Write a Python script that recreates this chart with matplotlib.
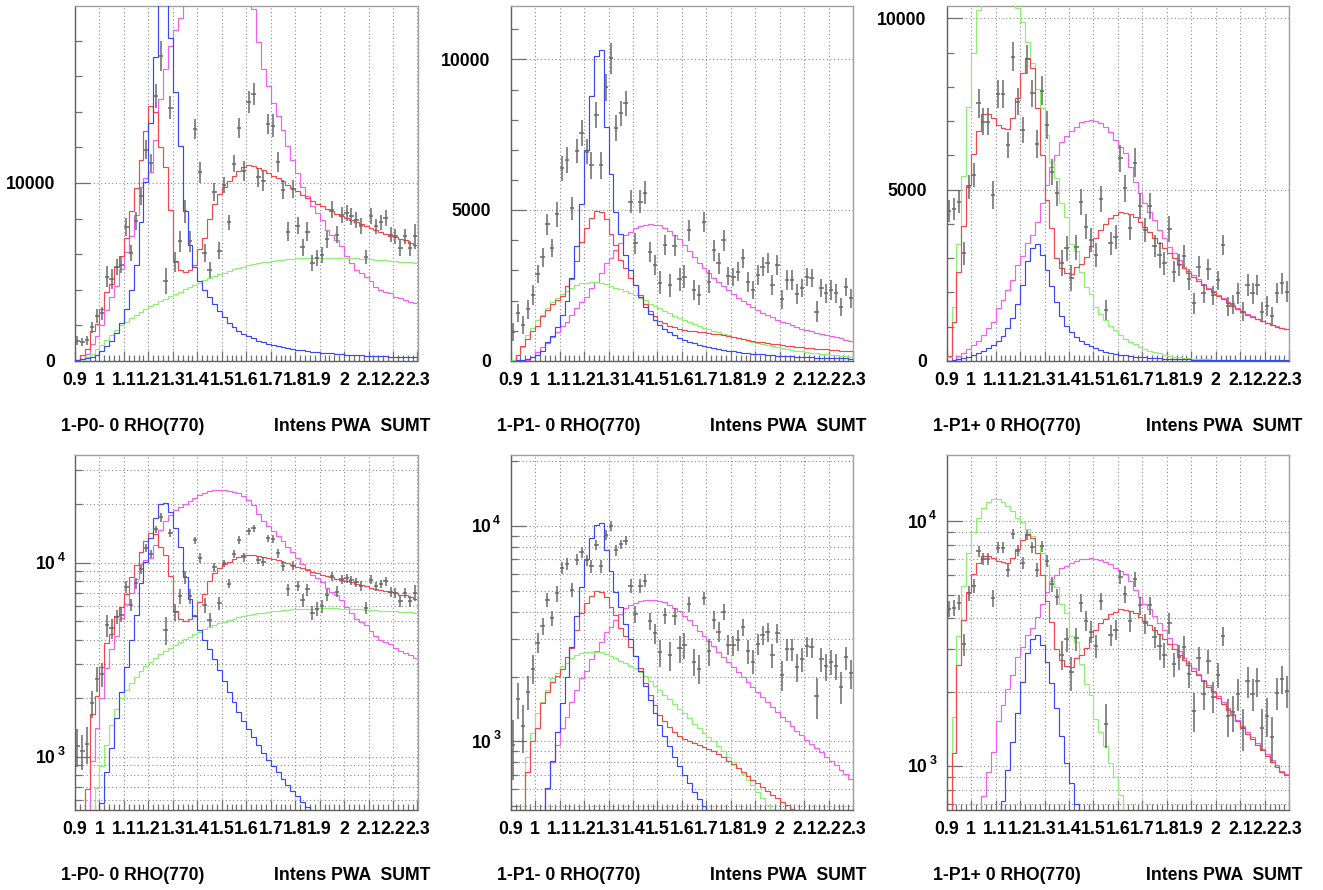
import numpy as np
import matplotlib
matplotlib.use("Agg")
import matplotlib.pyplot as plt
import matplotlib.transforms as mtransforms
from matplotlib.ticker import FixedLocator

plt.rcParams["font.family"] = ["Liberation Sans", "DejaVu Sans"]

FIG_W, FIG_H, DPI = 1323, 890, 100

# ---------------------------------------------------------------- binning
mass_edges = np.round(np.linspace(0.90, 2.30, 71), 2)
mass_centers = 0.5 * (mass_edges[:-1] + mass_edges[1:])
mass_ticks = [0.9, 1.0, 1.1, 1.2, 1.3, 1.4, 1.5, 1.6, 1.7, 1.8, 1.9, 2.0, 2.1, 2.2, 2.3]
mass_tick_labels = ["0.9", "1", "1.1", "1.2", "1.3", "1.4", "1.5", "1.6", "1.7",
                    "1.8", "1.9", "2", "2.1", "2.2", "2.3"]

wave_names = ["1-P0- 0 RHO(770)", "1-P1- 0 RHO(770)", "1-P1+ 0 RHO(770)"]
plot_tag = "Intens PWA  SUMT"

# ------------------------------------------------------ 1-P0- 0 RHO(770)
p0m_data = [1130, 1070, 1165, 1880, 2520, 2670, 4740, 4590, 5260, 5400,
            7520, 6050, 7840, 9250, 11880, 11130, 14890, 17140, 4490, 14230,
            5580, 6710, 8400, 6710, 13050, 10600, 6050, 5080, 9490, 6200,
            9910, 7780, 11070, 13100, 10660, 14550, 15020, 10320, 10130, 13330,
            13230, 11170, 9620, 7270, 9660, 7590, 6390, 7270, 5490, 5770,
            5960, 6840, 8500, 7090, 8210, 8310, 8120, 7900, 7590, 5830,
            8160, 7560, 7780, 8030, 7090, 6990, 6340, 6990, 6340, 6990]
p0m_err = [250, 220, 250, 300, 380, 380, 600, 550, 450, 480,
           520, 450, 500, 480, 560, 520, 650, 850, 750, 650,
           560, 600, 650, 600, 560, 600, 520, 450, 520, 480,
           450, 420, 480, 560, 560, 620, 620, 520, 560, 560,
           650, 560, 520, 520, 480, 480, 480, 520, 460, 460,
           460, 480, 460, 480, 440, 460, 460, 440, 440, 400,
           440, 420, 400, 440, 420, 400, 440, 440, 420, 680]
p0m_blue = [30, 80, 150, 230, 330, 574, 830, 1104, 1578, 2148,
            2898, 3991, 5373, 7822, 10040, 13350, 17070, 19990, 20200, 18150,
            15140, 12090, 8400, 6500, 5300, 4500, 4000, 3600, 3200, 2800,
            2450, 2150, 1900, 1700, 1520, 1385, 1260, 1140, 1040, 960,
            890, 827, 768, 715, 661, 622, 586, 548, 515, 485,
            460, 435, 412, 390, 370, 352, 335, 320, 305, 292,
            280, 268, 257, 247, 238, 229, 221, 213, 205, 198]
p0m_red = [20, 300, 680, 1650, 2050, 2900, 3850, 4300, 5300, 5900,
           6900, 8400, 9700, 11300, 12900, 14300, 14000, 12000, 10900, 8500,
           5600, 5100, 5000, 5100, 5400, 6300, 6900, 8000, 8800, 9400,
           9800, 10100, 10400, 10700, 10900, 11000, 10940, 10850, 10710, 10560,
           10410, 10280, 10090, 9910, 9720, 9530, 9340, 9150, 8970, 8830,
           8680, 8530, 8400, 8270, 8160, 8030, 7930, 7780, 7690, 7560,
           7440, 7330, 7220, 7120, 7030, 6950, 6840, 6770, 6650, 6520]
p0m_magenta = [20, 100, 400, 950, 1400, 2000, 2850, 3600, 4200, 5150,
               6100, 7000, 8200, 9800, 10300, 10600, 12400, 14700, 16400, 17700,
               18600, 19300, 20000, 20800, 21600, 22300, 22900, 23300, 23600, 23700,
               23700, 23500, 23200, 22800, 22000, 21000, 19800, 17900, 16400, 15450,
               14500, 13760, 13000, 12070, 11300, 10560, 9800, 9250, 8680, 8300,
               7930, 7370, 7090, 6800, 6430, 5870, 5490, 5110, 4930, 4740,
               4460, 4170, 3990, 3890, 3800, 3610, 3520, 3420, 3330, 3230]
p0m_green = [10, 50, 200, 400, 690, 890, 1150, 1450, 1750, 2000,
             2200, 2400, 2580, 2750, 2920, 3070, 3220, 3360, 3500, 3630,
             3760, 3890, 4020, 4150, 4280, 4400, 4520, 4640, 4750, 4860,
             4960, 5050, 5140, 5220, 5290, 5360, 5420, 5480, 5530, 5580,
             5620, 5660, 5690, 5720, 5740, 5760, 5770, 5780, 5790, 5800,
             5800, 5800, 5800, 5800, 5790, 5780, 5770, 5760, 5740, 5720,
             5700, 5680, 5660, 5640, 5620, 5600, 5580, 5560, 5540, 5520]

# ------------------------------------------------------ 1-P1- 0 RHO(770)
p1m_data = [962, 1571, 1183, 1703, 2179, 2876, 3429, 4535, 3727, 4855,
            6382, 6658, 5054, 6968, 7543, 6935, 6492, 8151, 6492, 9069,
            10031, 7709, 8207, 8538, 5276, 3893, 5276, 5574, 3617, 3174,
            2588, 3838, 2511, 3816, 2699, 2787, 4336, 2345, 2179, 4612,
            2621, 3672, 3230, 4004, 2809, 2787, 2953, 3395, 2621, 2345,
            2842, 3119, 3230, 2511, 3174, 2035, 2677, 2677, 2212, 2400,
            2765, 2732, 1626, 2400, 2234, 2345, 2234, 1792, 2455, 2068]
p1m_err = [300, 300, 300, 300, 330, 300, 320, 350, 300, 400,
           420, 420, 380, 400, 430, 420, 450, 430, 450, 450,
           520, 430, 420, 420, 380, 350, 380, 380, 330, 340,
           380, 340, 380, 350, 380, 380, 350, 330, 330, 330,
           380, 350, 340, 350, 300, 300, 320, 320, 330, 300,
           320, 320, 330, 320, 320, 330, 320, 320, 320, 300,
           300, 300, 350, 300, 320, 320, 310, 300, 300, 320]
p1m_blue = [5, 10, 30, 60, 110, 190, 330, 608, 813, 1112,
            1507, 2000, 2755, 3800, 5200, 7000, 8800, 10100, 10300, 7750,
            6200, 4950, 4200, 3500, 3000, 2500, 2130, 1800, 1550, 1350,
            1190, 1060, 950, 850, 770, 700, 640, 585, 540, 500,
            460, 425, 395, 365, 340, 315, 295, 275, 255, 240,
            225, 210, 197, 185, 173, 163, 153, 144, 136, 128,
            121, 114, 108, 102, 97, 92, 87, 83, 79, 75]
p1m_red = [5, 200, 480, 720, 1000, 1150, 1500, 1700, 1880, 2010,
           2160, 2470, 2720, 3300, 3950, 4400, 4750, 4980, 4950, 4700,
           4200, 3850, 3360, 3070, 2750, 2500, 2180, 1870, 1640, 1470,
           1330, 1240, 1170, 1110, 1060, 1025, 1000, 980, 960, 945,
           925, 900, 875, 845, 815, 785, 755, 725, 695, 665,
           640, 615, 590, 565, 545, 525, 505, 487, 470, 453,
           437, 421, 406, 392, 378, 365, 352, 340, 328, 317]
p1m_magenta = [5, 10, 15, 20, 130, 300, 470, 600, 800, 960,
               1150, 1300, 1520, 1740, 1960, 2130, 2400, 2620, 2900, 3230,
               3400, 3670, 3900, 4170, 4280, 4390, 4470, 4520, 4540, 4520,
               4490, 4420, 4310, 4170, 4030, 3830, 3640, 3450, 3260, 3090,
               2920, 2760, 2610, 2470, 2340, 2210, 2090, 1980, 1880, 1780,
               1690, 1600, 1520, 1440, 1370, 1300, 1240, 1180, 1120, 1070,
               1020, 975, 930, 890, 850, 810, 775, 740, 705, 670]
p1m_green = [30, 190, 470, 850, 1100, 1350, 1520, 1740, 1960, 2070,
             2230, 2320, 2430, 2510, 2570, 2590, 2610, 2610, 2590, 2545,
             2490, 2430, 2370, 2310, 2250, 2180, 2090, 2010, 1900, 1810,
             1740, 1650, 1570, 1490, 1420, 1350, 1280, 1210, 1150, 1100,
             1050, 1000, 950, 900, 850, 800, 755, 710, 665, 625,
             585, 545, 510, 475, 445, 415, 385, 360, 335, 312,
             290, 270, 250, 232, 215, 198, 183, 168, 155, 142]

# ------------------------------------------------------ 1-P1+ 0 RHO(770)
p1p_data = [4382, 4421, 4645, 3135, 5063, 5424, 7517, 6981, 6981, 4839,
            7790, 7790, 6300, 8880, 7566, 6738, 8802, 7809, 6329, 7887,
            6884, 5521, 4888, 2843, 3281, 2405, 3311, 4645, 3914, 3525,
            3087, 4713, 1480, 3427, 3603, 5910, 5034, 3885, 5784, 4518,
            3817, 4518, 3350, 3087, 2843, 3836, 2600, 2795, 3057, 2376,
            1675, 2746, 1967, 2668, 1918, 2356, 3379, 1597, 1655, 1967,
            1431, 2210, 1967, 2210, 1431, 1597, 1305, 1986, 2259, 2016]
p1p_err = [320, 320, 330, 330, 350, 350, 420, 400, 400, 400,
           400, 400, 380, 420, 400, 380, 420, 400, 420, 430,
           400, 380, 370, 380, 360, 380, 360, 380, 370, 360,
           340, 380, 300, 330, 350, 400, 400, 370, 420, 380,
           360, 380, 330, 380, 330, 380, 300, 330, 330, 300,
           300, 300, 280, 300, 280, 280, 300, 280, 280, 300,
           280, 320, 300, 300, 280, 290, 270, 300, 300, 300]
p1p_blue = [5, 10, 40, 70, 110, 160, 220, 290, 370, 460,
            570, 720, 960, 1250, 1650, 2200, 2900, 3300, 3420, 3100,
            2650, 2180, 1720, 1320, 1030, 850, 700, 580, 490, 420,
            360, 310, 270, 235, 205, 180, 158, 140, 124, 110,
            98, 88, 79, 71, 64, 58, 53, 48, 44, 40,
            37, 34, 31, 29, 27, 25, 23, 21, 20, 18,
            17, 16, 15, 14, 13, 12, 11, 10, 10, 9]
p1p_red = [150, 1130, 2580, 3940, 5120, 6050, 6720, 7200, 7200, 7080,
           6890, 6790, 6760, 7080, 7660, 8400, 8830, 8540, 7370, 6010,
           4700, 3870, 3000, 2700, 2550, 2530, 2750, 2840, 3040, 3350,
           3600, 3820, 3990, 4160, 4260, 4350, 4330, 4280, 4210, 4060,
           3910, 3770, 3600, 3450, 3280, 3140, 2990, 2840, 2700, 2570,
           2450, 2340, 2210, 2100, 2000, 1890, 1790, 1690, 1610, 1520,
           1430, 1350, 1290, 1220, 1160, 1100, 1040, 990, 945, 915]
p1p_magenta = [5, 20, 136, 234, 331, 458, 584, 750, 944, 1139,
               1529, 1772, 2064, 2356, 2795, 3057, 3427, 3671, 4060, 4596,
               5131, 5667, 6008, 6397, 6563, 6718, 6835, 6962, 7011, 7030,
               7011, 6933, 6816, 6689, 6446, 6251, 6056, 5667, 5229, 4888,
               4596, 4352, 4109, 3817, 3573, 3330, 3135, 2941, 2746, 2620,
               2500, 2380, 2250, 2140, 2030, 1920, 1820, 1720, 1635, 1545,
               1455, 1375, 1305, 1235, 1175, 1115, 1055, 1005, 955, 925]
p1p_green = [100, 1580, 3400, 5400, 7420, 9000, 10250, 11260, 11990, 12260,
             12260, 11990, 11550, 10990, 10300, 9900, 9300, 8700, 7950, 7380,
             6580, 5800, 5350, 4600, 4200, 3400, 3200, 2600, 2150, 1950,
             1560, 1380, 1200, 1030, 900, 760, 650, 560, 480, 410,
             350, 300, 255, 215, 180, 150, 125, 105, 90, 75,
             63, 53, 45, 38, 32, 27, 23, 20, 17, 14,
             12, 10, 9, 8, 7, 6, 5, 4, 4, 3]

waves = [
    dict(name=wave_names[0], data=p0m_data, err=p0m_err, blue=p0m_blue, red=p0m_red,
         magenta=p0m_magenta, green=p0m_green,
         lin_max=19950, lin_major=[0, 10000, 20000], lin_labels=["0", "10000", ""],
         lin_minor=np.arange(0, 20001, 2000), log_range=(531, 35900)),
    dict(name=wave_names[1], data=p1m_data, err=p1m_err, blue=p1m_blue, red=p1m_red,
         magenta=p1m_magenta, green=p1m_green,
         lin_max=11770, lin_major=[0, 5000, 10000], lin_labels=["0", "5000", "10000"],
         lin_minor=np.arange(0, 12001, 1000), log_range=(482, 21300)),
    dict(name=wave_names[2], data=p1p_data, err=p1p_err, blue=p1p_blue, red=p1p_red,
         magenta=p1p_magenta, green=p1p_green,
         lin_max=10360, lin_major=[0, 5000, 10000], lin_labels=["0", "5000", "10000"],
         lin_minor=np.arange(0, 11001, 1000), log_range=(661, 18600)),
]

# ------------------------------------------------------------- styling
FS = 12.7
COL_LEFT = [75.0, 510.7, 946.7]
AX_W = 342.5
ROW_TOP = [6.0, 455.0]
AX_H = 354.8
HIST_STYLE = [("magenta", "#f060f0"), ("green", "#8cf070"),
              ("red", "#f04848"), ("blue", "#3848f0")]
GRID = dict(color="#8a8a8a", linestyle=(0, (1.0, 2.3)), linewidth=0.8)

log_minor = [v * 10 ** e for e in (2, 3, 4) for v in range(1, 10)]

fig = plt.figure(figsize=(FIG_W / DPI, FIG_H / DPI), dpi=DPI)
fig.patch.set_facecolor("white")


def px_rect(left, top, w, h):
    return [left / FIG_W, 1 - (top + h) / FIG_H, w / FIG_W, h / FIG_H]


def shifted(base, dx, dy):
    return mtransforms.offset_copy(base, fig=fig, x=dx, y=dy, units="dots")


for row in range(2):
    for col, wave in enumerate(waves):
        ax = fig.add_axes(px_rect(COL_LEFT[col], ROW_TOP[row], AX_W, AX_H))
        log_row = row == 1

        for key, color in HIST_STYLE:
            ax.stairs(wave[key], mass_edges, color=color, linewidth=0.85,
                      baseline=None, zorder=3)
        ax.errorbar(mass_centers, wave["data"], yerr=wave["err"], xerr=0.009,
                    fmt="none", ecolor="#686868", elinewidth=1.1, capsize=0,
                    zorder=4)

        ax.set_xlim(0.9, 2.3)
        ax.xaxis.set_major_locator(FixedLocator(mass_ticks))
        ax.xaxis.set_minor_locator(FixedLocator(mass_edges))

        if log_row:
            ax.set_yscale("log")
            lo, hi = wave["log_range"]
            ax.set_ylim(lo, hi)
            ax.yaxis.set_major_locator(FixedLocator([1000, 10000]))
            ax.yaxis.set_minor_locator(FixedLocator([v for v in log_minor if lo <= v <= hi]))
            ax.yaxis.grid(True, which="both", **GRID)
        else:
            ax.set_ylim(0, wave["lin_max"])
            ax.yaxis.set_major_locator(FixedLocator(wave["lin_major"]))
            ax.yaxis.set_minor_locator(FixedLocator(wave["lin_minor"]))
            ax.yaxis.grid(True, which="major", **GRID)
        ax.xaxis.grid(True, which="major", **GRID)
        ax.set_axisbelow(True)

        ax.tick_params(which="both", direction="in", labelbottom=False,
                       labelleft=False, color="#707070", width=0.9,
                       top=False, right=False)
        ax.tick_params(axis="x", which="major", length=7)
        ax.tick_params(axis="x", which="minor", length=4.5)
        ax.tick_params(axis="y", which="major", length=11)
        ax.tick_params(axis="y", which="minor", length=5)

        for side in ("left", "bottom"):
            ax.spines[side].set_color("#606060")
            ax.spines[side].set_linewidth(1.0)
        for side in ("top", "right"):
            ax.spines[side].set_color("#a0a0a0")
            ax.spines[side].set_linewidth(1.0)

        # mass axis labels
        xt = ax.get_xaxis_transform()
        for t, lab in zip(mass_ticks, mass_tick_labels):
            ax.text(t, 0, lab, transform=shifted(xt, 0, -24.0), ha="center",
                    va="baseline", fontsize=FS, fontweight="bold", color="black")

        # intensity axis labels
        yt = ax.get_yaxis_transform()
        if log_row:
            for v, expo in ((1000, "3"), (10000, "4")):
                if lo <= v <= hi:
                    ax.text(0, v, "10", transform=shifted(yt, -19.5, -6.6), ha="right",
                            va="baseline", fontsize=FS, fontweight="bold")
                    ax.text(0, v, expo, transform=shifted(yt, -17.5, 2.0), ha="left",
                            va="baseline", fontsize=FS * 0.7, fontweight="bold")
        else:
            for v, lab in zip(wave["lin_major"], wave["lin_labels"]):
                if lab and v <= wave["lin_max"]:
                    ax.text(0, v, lab, transform=shifted(yt, -20, -6.4), ha="right",
                            va="baseline", fontsize=FS, fontweight="bold")

        # captions under each pad
        ax.text(0, 0, wave["name"], transform=shifted(ax.transAxes, -14, -70),
                ha="left", va="baseline", fontsize=FS, fontweight="bold")
        ax.text(1, 0, plot_tag, transform=shifted(ax.transAxes, 13.5, -70),
                ha="right", va="baseline", fontsize=FS, fontweight="bold")

fig.savefig("out.png", dpi=DPI, facecolor="white")
